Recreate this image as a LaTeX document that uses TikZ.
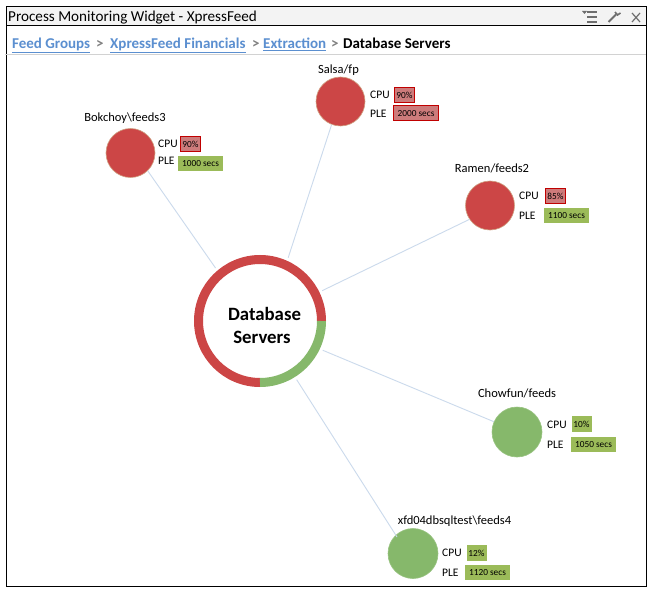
\documentclass[tikz,border=0pt]{standalone}
\usepackage{fontspec}
\usetikzlibrary{calc}
\setmainfont{Carlito}
\definecolor{redfill}{HTML}{CC4646}
\definecolor{redrim}{HTML}{CFA182}
\definecolor{greenfill}{HTML}{86B86B}
\definecolor{linkblue}{HTML}{5B8FD0}
\definecolor{linkline}{HTML}{CBDAEC}
\definecolor{valred}{HTML}{CD7B7B}
\definecolor{valredline}{HTML}{C00000}
\definecolor{valgreen}{HTML}{9BBB59}
\definecolor{barbg}{HTML}{F3F3F3}
\definecolor{icongray}{HTML}{6E6E6E}
\tikzset{
  hotsat/.style={circle,fill=redfill,draw=redrim,line width=.6pt,minimum size=49pt,inner sep=0},
  coolsat/.style={circle,fill=greenfill,draw=greenfill!85!white,line width=.6pt,minimum size=50pt,inner sep=0},
  satname/.style={anchor=base,inner sep=0,font=\fontsize{12.5}{14}\selectfont},
  metric/.style={anchor=base west,inner sep=0,font=\fontsize{11.5}{13}\selectfont},
  valbox/.style={inner sep=0,font=\fontsize{9.3}{11}\selectfont,minimum height=15pt},
  cpubox/.style={valbox,minimum width=20pt},
  plebox/.style={valbox,minimum width=45pt},
  valhot/.style={fill=valred,draw=valredline,line width=1pt},
  valok/.style={fill=valgreen},
  crumb/.style={anchor=base west,inner sep=0,font=\fontsize{15}{17}\selectfont\bfseries},
  crumblink/.style={crumb,text=linkblue},
  crumbsep/.style={crumb,text=gray},
  spoke/.style={draw=linkline,line width=.9pt},
  iconline/.style={draw=icongray,line width=1.7pt}
}
\begin{document}
\begin{tikzpicture}[x=1pt,y=-1pt]
\useasboundingbox (0,0) rectangle (651,591);
\fill[white] (0,0) rectangle (651,591);
% window
\fill[barbg] (6,6) rectangle (646,26);
\draw[black,line width=1pt] (6.5,6.5) rectangle (646,586);
\draw[black,line width=1pt] (6,26) -- (646,26);
\draw[gray!35,line width=1pt] (5,55) -- (646,55);
\node[anchor=base west,inner sep=0,font=\fontsize{15.15}{17}\selectfont] (title) at (8,21.5) {Process Monitoring Widget - XpressFeed};
% toolbar icons
\draw[iconline] (587,12) -- (597,12) (587,17) -- (597,17) (587,22) -- (597,22);
\fill[icongray] (582,11) -- (587,11) -- (584.5,14) -- cycle;
\draw[icongray,line width=2pt] (608.5,22) -- (616,14.5);
\draw[icongray,line width=1.6pt] (615,12) -- (617.5,15) -- (620.5,13);
\draw[icongray,line width=1.2pt] (632,13) -- (640,22) (640,13) -- (632,22);
% breadcrumb
\node[crumblink] (c1) at (12,48.5) {\underline{Feed Groups}};
\node[crumbsep] (s1) at (96,48.5) {>};
\node[crumblink] (c2) at (110,48.5) {\underline{XpressFeed Financials}};
\node[crumbsep] (s2) at (252,48.5) {>};
\node[crumblink] (c3) at (263,48.5) {\underline{Extraction}};
\node[crumbsep] (s3) at (331,48.5) {>};
\node[crumb] (c4) at (343,48.5) {Database Servers};
% hub
\node[circle,minimum size=138pt,inner sep=0] (ring) at (260,321) {};
% satellites
\node[hotsat] (salsa) at (340.5,101.5) {};
\node[hotsat] (bok) at (130.5,153) {};
\node[hotsat] (ramen) at (490,205.5) {};
\node[coolsat] (chow) at (517,432) {};
\node[coolsat] (xfd) at (413,553.5) {};
% spokes
\draw[spoke] (ring.66) -- (salsa.249);
\draw[spoke] (ring.130) -- (bok.-46);
\draw[spoke] (ring.26.6) -- (ramen.214);
\draw[spoke] (ring.-25.5) -- (chow.156);
\draw[spoke] (ring.-58.6) -- ($(xfd.center)+(-16,-16.5)$);
% ring
\draw[redfill,line width=9pt] (260,382.5) arc[start angle=90,end angle=360,radius=61.5];
\draw[greenfill,line width=9pt] (321.5,321) arc[start angle=0,end angle=90,radius=61.5];
\node[align=center,inner sep=0,font=\fontsize{18.8}{23.5}\selectfont\bfseries] (hublabel) at (264.5,325.5) {Database\\Servers\hspace*{5pt}};
% Salsa
\node[satname] (n1) at (338.5,73.5) {Salsa/fp};
\node[metric] (n1c) at (370,99) {CPU};
\node[metric] (n1p) at (370,118) {PLE};
\node[cpubox,valhot] (n1cv) at (404.5,95) {90\%};
\node[plebox,valhot] (n1pv) at (416,113.5) {2000 secs};
% Bokchoy
\node[satname] (n2) at (125,121.5) {Bokchoy\textbackslash feeds3};
\node[metric] (n2c) at (158,148) {CPU};
\node[metric] (n2p) at (158,165) {PLE};
\node[cpubox,valhot] (n2cv) at (190.5,144) {90\%};
\node[plebox,valok] (n2pv) at (200.5,163.5) {1000 secs};
% Ramen
\node[satname] (n3) at (492,172.5) {Ramen/feeds2};
\node[metric] (n3c) at (519,199.5) {CPU};
\node[metric] (n3p) at (519,219) {PLE};
\node[cpubox,valhot] (n3cv) at (555.5,196) {85\%};
\node[plebox,valok] (n3pv) at (566.5,215.5) {1100 secs};
% Chowfun
\node[satname] (n4) at (517,397.5) {Chowfun/feeds};
\node[metric] (n4c) at (547,428) {CPU};
\node[metric] (n4p) at (547,448) {PLE};
\node[cpubox,valok,minimum height=16pt] (n4cv) at (581.5,424) {10\%};
\node[plebox,valok] (n4pv) at (593.5,444.5) {1050 secs};
% xfd
\node[satname] (n5) at (454.5,524.5) {xfd04dbsqltest\textbackslash feeds4};
\node[metric] (n5c) at (442,556) {CPU};
\node[metric] (n5p) at (442,576) {PLE};
\node[cpubox,valok,minimum height=16pt] (n5cv) at (476.5,553) {12\%};
\node[plebox,valok] (n5pv) at (487.5,572.5) {1120 secs};
\end{tikzpicture}
\end{document}
